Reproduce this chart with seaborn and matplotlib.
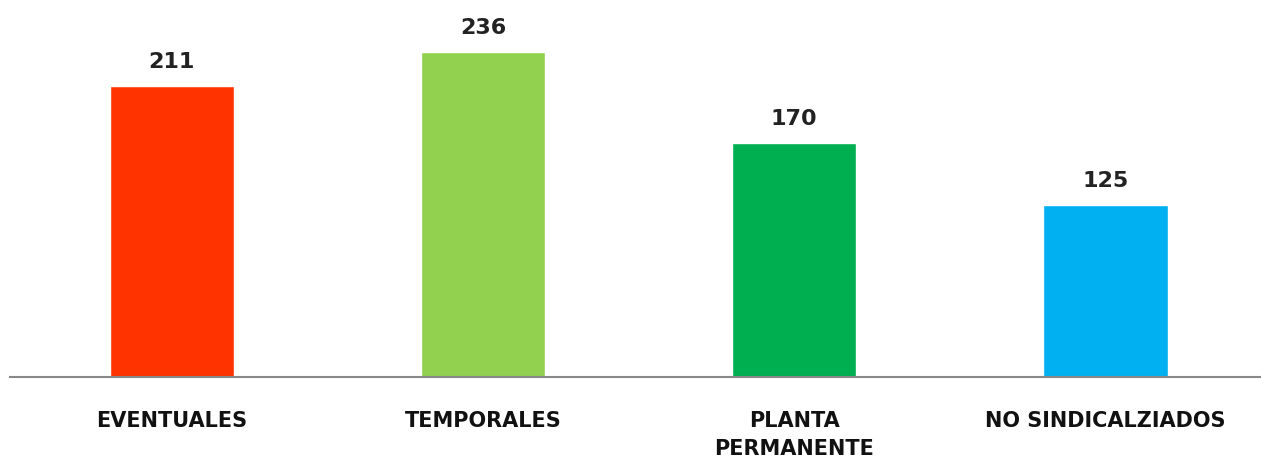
import seaborn as sns
import matplotlib.pyplot as plt

categories = ['EVENTUALES', 'TEMPORALES', 'PLANTA\nPERMANENTE', 'NO SINDICALZIADOS']
values = [211, 236, 170, 125]
colors = ['#FF3300', '#92D050', '#00B050', '#00B0F0']

sns.set_style('white')
plt.rcParams['font.family'] = ['DejaVu Sans']

fig = plt.figure(figsize=(12.61, 4.64), dpi=100)
ax = fig.add_axes([0.008, 0.185, 0.992, 0.772])

sns.barplot(x=categories, y=values, hue=categories, palette=colors,
            width=0.4, legend=False, ax=ax, saturation=1)

for i, v in enumerate(values):
    ax.text(i, v + 11, str(v), ha='center', va='bottom',
            fontsize=16, fontweight='bold', color='#222222')

ax.set_ylim(0, 260)
ax.set_xlim(-0.52, 3.5)
ax.set_yticks([])
ax.tick_params(axis='x', length=0, pad=24, labelsize=15)
for lbl in ax.get_xticklabels():
    lbl.set_fontweight('bold')
    lbl.set_color('#111111')
    lbl.set_linespacing(1.45)
for s in ['top', 'right', 'left']:
    ax.spines[s].set_visible(False)
ax.spines['bottom'].set_color('#888888')
ax.spines['bottom'].set_linewidth(1.5)

fig.savefig('out.png', dpi=100)
